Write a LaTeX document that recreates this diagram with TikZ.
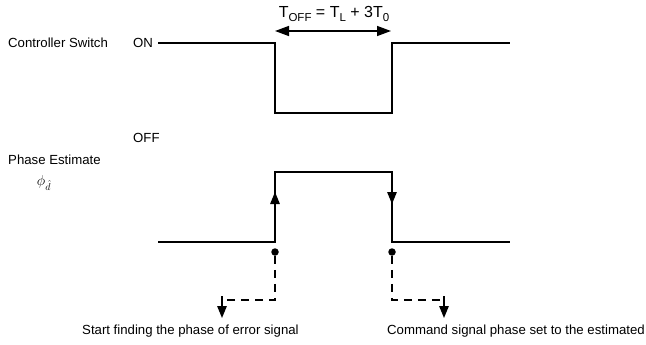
\documentclass[tikz,border=0pt]{standalone}
\usepackage{fontspec}
\setmainfont{Liberation Sans}
\usetikzlibrary{arrows.meta}
\newcommand\lowsub[1]{\raisebox{-0.45ex}{\fontsize{11.5}{12}\selectfont #1}}
\begin{document}
\begin{tikzpicture}[x=1pt,y=-1pt,
  lbl/.style={font=\fontsize{13.2}{15}\selectfont, inner sep=0pt, anchor=west},
  wave/.style={line width=1.4pt},
  dsh/.style={line width=1.4pt, dash pattern=on 8pt off 6pt},
  head/.style={Triangle[length=12pt,width=9.5pt]},
  tip/.style={-{Triangle[length=12pt,width=9.5pt]}},
  dot/.style={circle, fill=black, inner sep=0pt, minimum size=7.5pt}]
\useasboundingbox (0,0) rectangle (646,345);
% labels
\node[lbl] (cs) at (8,43) {Controller Switch};
\node[lbl] (on) at (133,43) {ON};
\node[lbl] (off) at (133,138) {OFF};
\node[lbl] (pe) at (8,160) {Phase Estimate};
\node[inner sep=0pt] (phi) at (44,183) {\fontsize{14}{16}\selectfont$\phi_{\hat d}$};
\node[font=\fontsize{16}{18}\selectfont, inner sep=0pt] (eq) at (334,14)
  {T\lowsub{OFF} = T\lowsub{L} + 3T\lowsub{0}};
\node[lbl] (t1) at (82,331) {Start finding the phase of error signal};
\node[lbl] (t2) at (387,331) {Command signal phase set to the estimated};
% controller switch waveform
\coordinate (a0) at (158,43);
\coordinate (a1) at (275,43);
\coordinate (a2) at (275,113);
\coordinate (a3) at (392,113);
\coordinate (a4) at (392,43);
\coordinate (a5) at (510,43);
\draw[wave] (a0) -- (a1) -- (a2) -- (a3) -- (a4) -- (a5);
% T_OFF arrow
\coordinate (d1) at (275,31);
\coordinate (d2) at (391,31);
\draw[line width=1.4pt, {Triangle[length=14pt,width=10pt]}-{Triangle[length=14pt,width=10pt]}] (d1) -- (d2);
% phase waveform
\coordinate (b0) at (158,242);
\coordinate (b1) at (275,242);
\coordinate (b2) at (275,172);
\coordinate (b3) at (392,172);
\coordinate (b4) at (392,242);
\coordinate (b5) at (510,242);
\draw[wave] (b0) -- (b1) -- (b2) -- (b3) -- (b4) -- (b5);
\coordinate (u1) at (275,215);
\coordinate (u2) at (275,192);
\draw[wave, tip] (u1) -- (u2);
\coordinate (w1) at (392,185);
\coordinate (w2) at (392,204);
\draw[wave, tip] (w1) -- (w2);
% dots and dashed leaders
\node[dot] (p1) at (275,252) {};
\node[dot] (p2) at (392,252) {};
\coordinate (c1) at (275,300);
\coordinate (e1) at (222,300);
\coordinate (f1) at (222,318);
\coordinate (c2) at (392,300);
\coordinate (e2) at (444,300);
\coordinate (f2) at (444,318);
\draw[dsh] (p1) -- (c1) -- (e1) -- ([yshift=4pt]e1);
\draw[wave, tip] ([yshift=3pt]e1) -- (f1);
\draw[dsh] (p2) -- (c2) -- (e2) -- ([yshift=4pt]e2);
\draw[wave, tip] ([yshift=3pt]e2) -- (f2);
\end{tikzpicture}
\end{document}
